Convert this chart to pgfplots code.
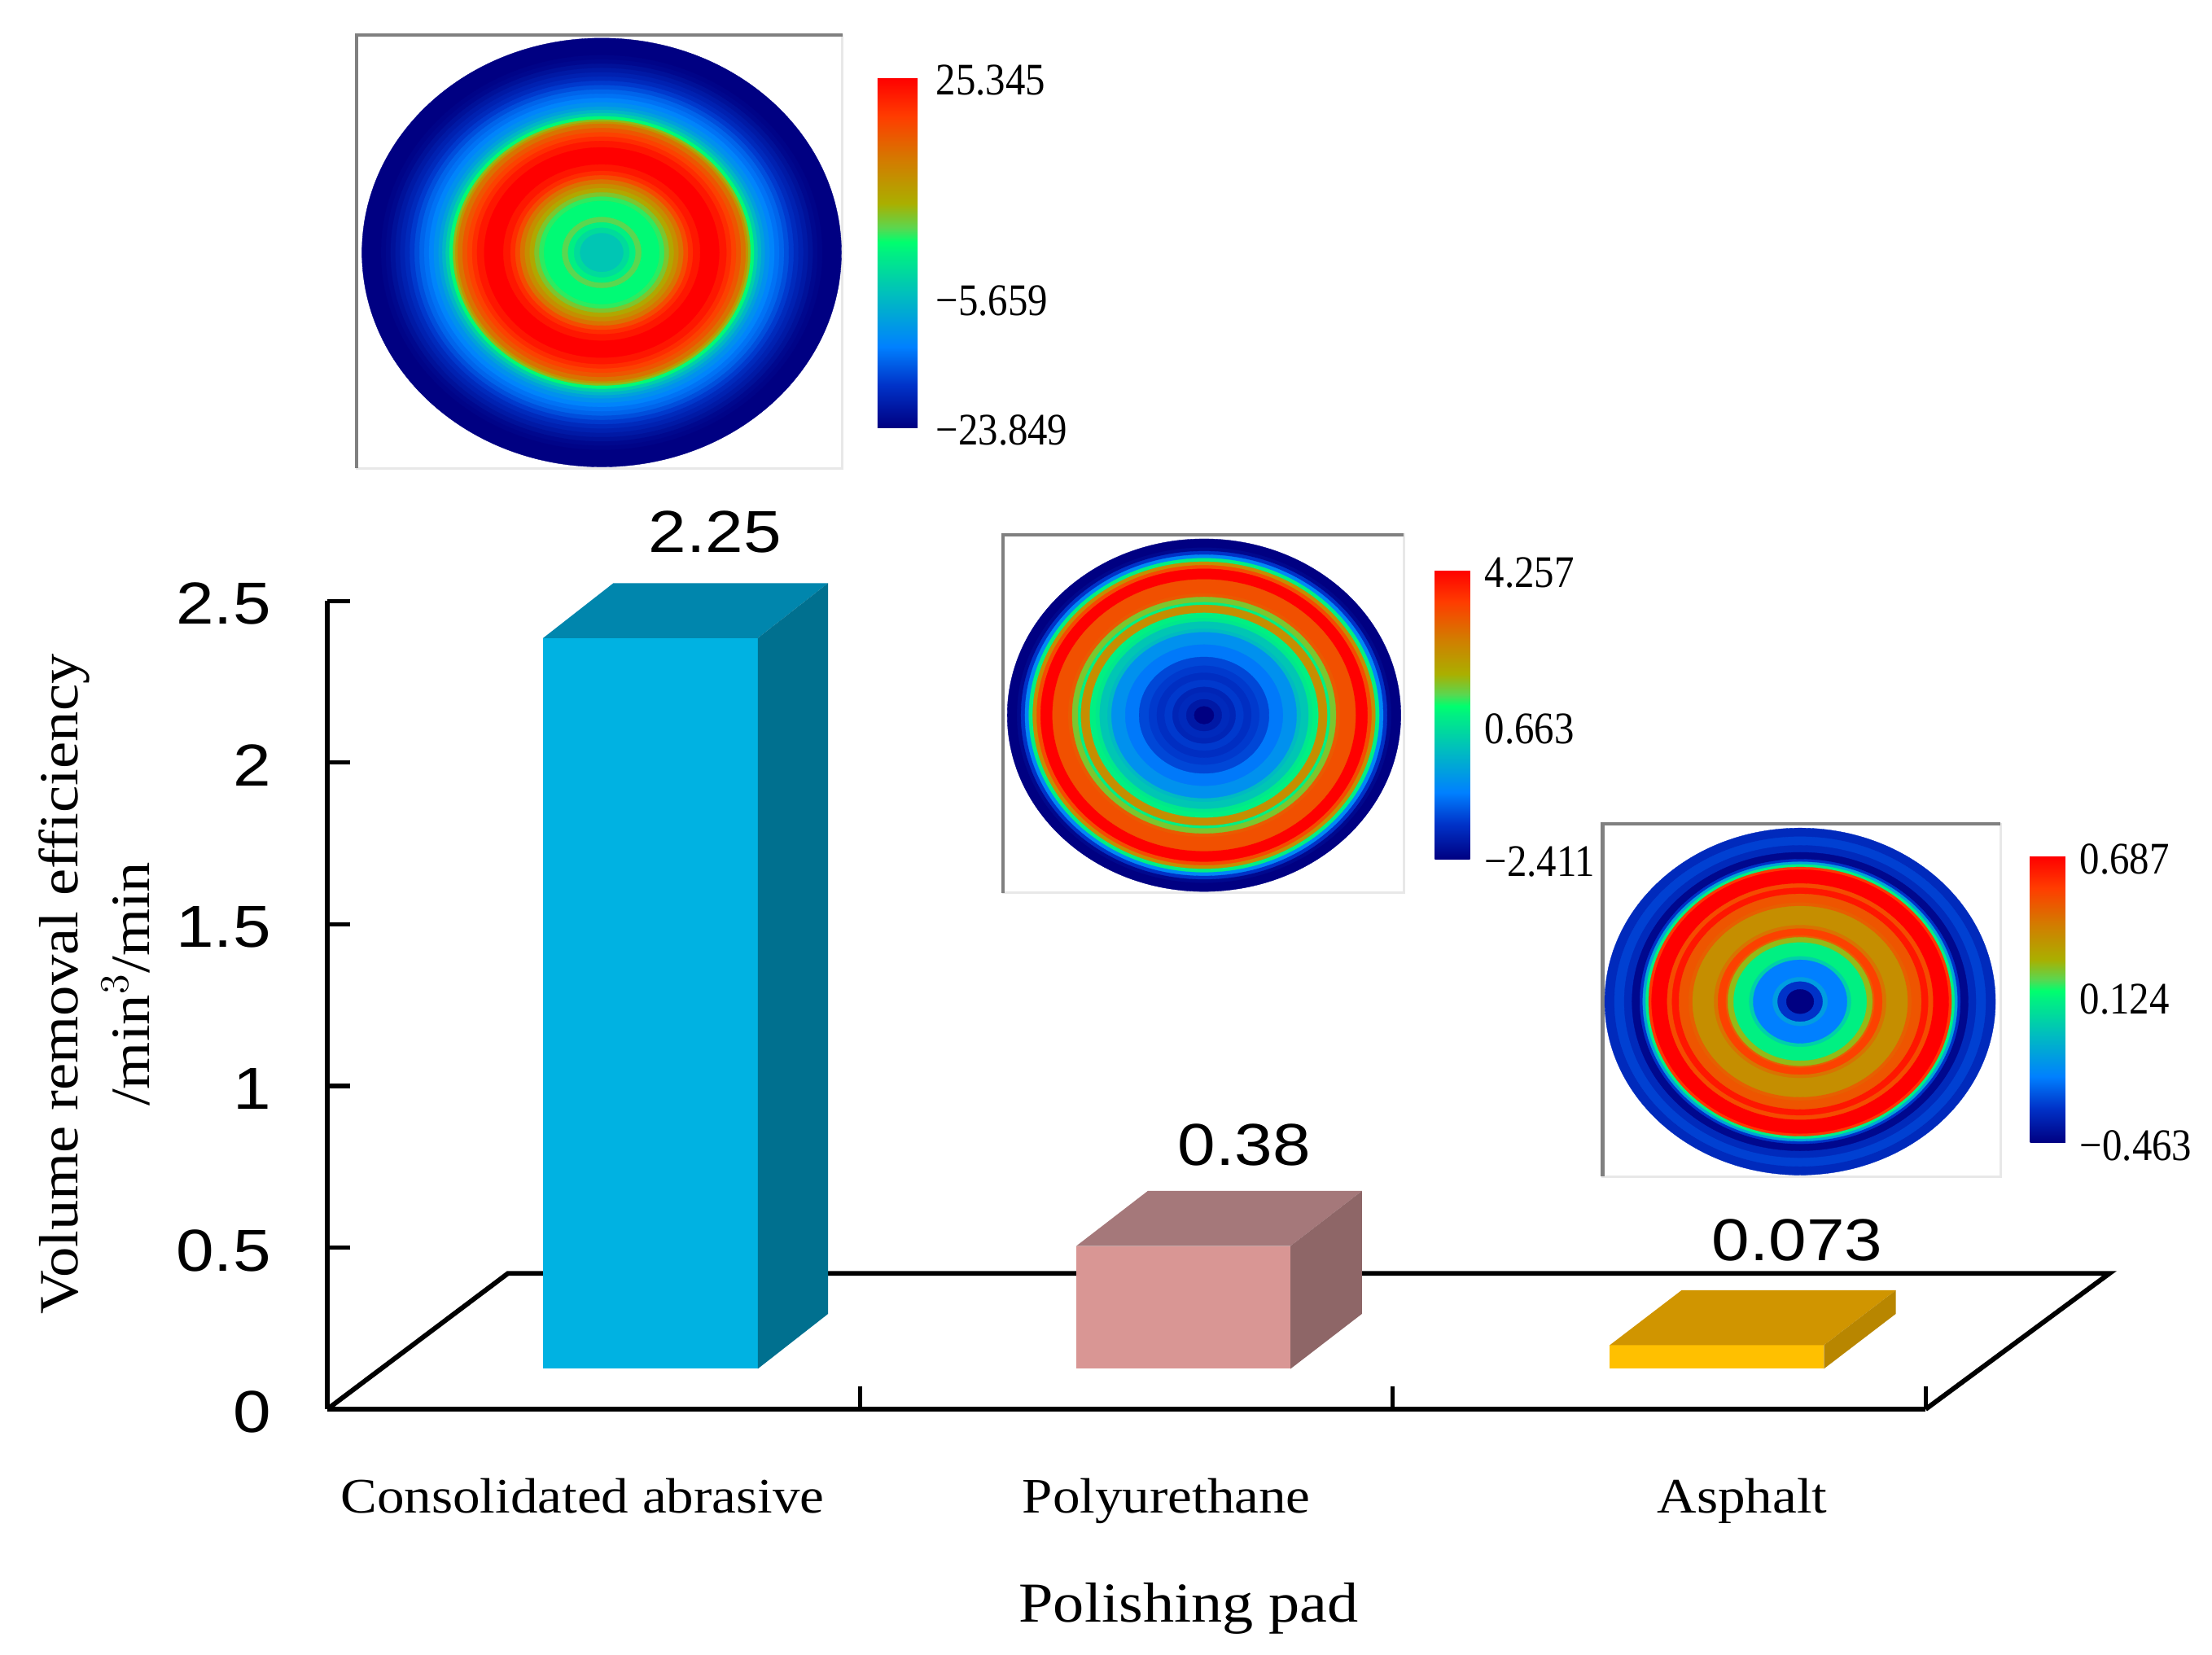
\documentclass[border=0pt]{standalone}
\usepackage{fontspec}
\usepackage{pgfplots}
\usepackage{pgfplotstable}
\pgfplotsset{compat=1.18}
\setmainfont{Liberation Serif}
\newfontfamily\numfont[FakeStretch=1.15]{Liberation Sans}
\newfontfamily\barfont[FakeStretch=0.88]{Liberation Serif}
\newfontfamily\wideserif[FakeStretch=1.1]{Liberation Serif}

\definecolor{frontA}{HTML}{00B2E2}
\definecolor{topA}{HTML}{0086AD}
\definecolor{sideA}{HTML}{00708F}
\definecolor{frontB}{HTML}{D99694}
\definecolor{topB}{HTML}{A5787A}
\definecolor{sideB}{HTML}{8E6667}
\definecolor{frontC}{HTML}{FFC000}
\definecolor{topC}{HTML}{D09500}
\definecolor{sideC}{HTML}{B88600}
\definecolor{framedark}{HTML}{808080}
\definecolor{framelight}{HTML}{E8E8E8}

% rings of each map: outer radius (fraction of the disc), level on its colour bar (0 to 1)
\pgfplotstableread{
x y r level
0 0 1.00 0.00
0 0 0.94 0.00
0 0 0.92 0.01
0 0 0.90 0.02
0 0 0.88 0.04
0 0 0.86 0.06
0 0 0.84 0.08
0 0 0.82 0.10
0 0 0.80 0.13
0 0 0.78 0.16
0 0 0.76 0.19
0 0 0.74 0.21
0 0 0.72 0.24
0 0 0.70 0.27
0 0 0.68 0.31
0 0 0.665 0.36
0 0 0.65 0.42
0 0 0.635 0.52
0 0 0.62 0.62
0 0 0.61 0.70
0 0 0.60 0.78
0 0 0.58 0.84
0 0 0.56 0.88
0 0 0.54 0.92
0 0 0.52 0.96
0 0 0.49 1.00
0 0 0.41 0.96
0 0 0.38 0.92
0 0 0.36 0.86
0 0 0.34 0.78
0 0 0.32 0.72
0 0 0.30 0.66
0 0 0.28 0.60
0 0 0.26 0.55
0 0 0.24 0.52
0 0 0.20 0.52
0 0 0.165 0.57
0 0 0.14 0.50
0 0 0.115 0.45
0 0 0.09 0.40
}\ringsA
\pgfplotstableread{
x y r level
0 0 1.00 0.00
0 0 0.95 0.02
0 0 0.93 0.12
0 0 0.91 0.25
0 0 0.89 0.50
0 0 0.87 0.72
0 0 0.85 0.86
0 0 0.83 1.00
0 0 0.79 1.00
0 0 0.77 0.85
0 0 0.69 0.83
0 0 0.67 0.60
0 0 0.64 0.50
0 0 0.625 0.72
0 0 0.595 0.72
0 0 0.58 0.50
0 0 0.55 0.48
0 0 0.53 0.40
0 0 0.49 0.37
0 0 0.47 0.27
0 0 0.40 0.22
0 0 0.33 0.15
0 0 0.28 0.13
0 0 0.24 0.11
0 0 0.20 0.13
0 0 0.16 0.09
0 0 0.13 0.10
0 0 0.09 0.06
0 0 0.05 0.00
}\ringsB
\pgfplotstableread{
x y r level
0 0 1.00 0.10
0 0 0.95 0.14
0 0 0.90 0.10
0 0 0.86 0.02
0 0 0.82 0.12
0 0 0.805 0.32
0 0 0.79 0.50
0 0 0.775 0.90
0 0 0.76 1.00
0 0 0.68 0.86
0 0 0.655 0.96
0 0 0.62 0.84
0 0 0.57 0.82
0 0 0.55 0.72
0 0 0.44 0.78
0 0 0.42 0.88
0 0 0.38 0.82
0 0 0.37 0.62
0 0 0.34 0.50
0 0 0.26 0.42
0 0 0.24 0.23
0 0 0.14 0.30
0 0 0.115 0.12
0 0 0.07 0.00
}\ringsC

\pgfplotsset{
  colormap={hm}{
    rgb255(0pt)=(0,0,130); rgb255(12pt)=(0,50,200); rgb255(23pt)=(0,128,255);
    rgb255(38pt)=(0,190,190); rgb255(50pt)=(0,240,130); rgb255(53pt)=(0,255,110);
    rgb255(57pt)=(90,215,80); rgb255(64pt)=(170,175,0); rgb255(76pt)=(210,125,0);
    rgb255(89pt)=(255,60,0); rgb255(100pt)=(255,0,0)
  },
  inset/.style={
    scale only axis, clip=false, anchor=south west,
    xtick=\empty, ytick=\empty,
    axis line style={draw=framelight, line width=0.8pt},
    colormap name=hm,
    colorbar,
  },
  mapbar/.style={
    scale only axis, at={(parent axis.north east)}, anchor=north west,
    major tick length=0pt, axis line style={draw=none},
    yticklabel style={font=\barfont\fontsize{16}{16}\selectfont, inner sep=0pt, xshift=5pt, yshift=-1pt, anchor=west},
  },
  corner/.style={framedark, line width=1.2pt},
  rings/.style={
    scatter, only marks, mark=*,
    scatter/use mapped color={draw=mapped color, fill=mapped color},
    line width=0.1pt,
    scatter/@pre marker code/.append style={/tikz/mark size=\rr},
  },
}

\begin{document}
\begin{tikzpicture}
\path[use as bounding box] (0pt,0pt) rectangle (784pt,-586.5pt);

\begin{axis}[
  scale only axis, clip=false,
  at={(116pt,-499.5pt)}, anchor=south west,
  width=566.5pt, height=286.5pt,
  xmin=0, xmax=3, ymin=0, ymax=2.5,
  axis x line*=bottom, axis y line*=left,
  axis line style={line width=1.8pt},
  tick style={black, line width=1.5pt},
  tick align=inside, major tick length=8pt,
  xtick={1,2,3}, xticklabels={,,},
  ytick={0,0.5,1,1.5,2,2.5},
  /pgf/number format/assume math mode=true,
  yticklabel style={font=\numfont\fontsize{21}{21}\selectfont, xshift=-16.5pt, yshift=-1pt},
  extra x ticks={0.479,1.575,2.656},
  extra x tick labels={Consolidated abrasive,Polyurethane,Asphalt},
  extra x tick style={major tick length=0pt,
    xticklabel style={font=\wideserif\fontsize{17.6}{18}\selectfont, yshift=-21pt}},
  xlabel={Polishing pad},
  ylabel={Volume removal efficiency\\/min$^{3}$/min},
  xlabel style={font=\wideserif\fontsize{20}{20}\selectfont,
    at={(axis description cs:0.539,-0.2465)}, anchor=center},
  ylabel style={font=\wideserif\fontsize{19.6}{25.5}\selectfont, align=center,
    at={(axis description cs:-0.1456,0.526)}, anchor=center},
]
% floor
\addplot[black, line width=1.7pt] coordinates {(0,0) (0.339,0.42) (3.345,0.42) (3,0)};
% consolidated abrasive, 2.25
\addplot[fill=frontA, draw=none] coordinates {(0.405,0.125) (0.808,0.125) (0.808,2.385) (0.405,2.385)};
\addplot[fill=topA, draw=none] coordinates {(0.405,2.385) (0.808,2.385) (0.940,2.555) (0.537,2.555)};
\addplot[fill=sideA, draw=none] coordinates {(0.808,0.125) (0.940,0.295) (0.940,2.555) (0.808,2.385)};
% polyurethane, 0.38
\addplot[fill=frontB, draw=none] coordinates {(1.406,0.125) (1.808,0.125) (1.808,0.505) (1.406,0.505)};
\addplot[fill=topB, draw=none] coordinates {(1.406,0.505) (1.808,0.505) (1.942,0.675) (1.540,0.675)};
\addplot[fill=sideB, draw=none] coordinates {(1.808,0.125) (1.942,0.295) (1.942,0.675) (1.808,0.505)};
% asphalt, 0.073
\addplot[fill=frontC, draw=none] coordinates {(2.407,0.125) (2.809,0.125) (2.809,0.198) (2.407,0.198)};
\addplot[fill=topC, draw=none] coordinates {(2.407,0.198) (2.809,0.198) (2.944,0.368) (2.542,0.368)};
\addplot[fill=sideC, draw=none] coordinates {(2.809,0.125) (2.944,0.295) (2.944,0.368) (2.809,0.198)};
% value labels
\addplot[draw=none, nodes near coords, point meta=explicit symbolic,
  every node near coord/.append style={font=\numfont\fontsize{21}{21}\selectfont, anchor=center, inner sep=0pt}]
  table[meta=lab] {
x y lab
0.728 2.714 2.25
1.721 0.817 0.38
2.759 0.524 0.073
};
\end{axis}

\begin{axis}[inset,
  at={(126.5pt,-166pt)}, width=172pt, height=153.5pt,
  xmin=-173.5, xmax=170.5, ymin=-153, ymax=154,
  point meta min=-23.849, point meta max=25.345,
  colorbar style={mapbar, width=15.5pt, height=124pt, xshift=4pt, yshift=-15pt,
    ytick={-23.849,-5.659,25.345}, yticklabels={−23.849,−5.659,\raisebox{-1.5pt}{25.345}}},
]
\addplot[corner] coordinates {(-173.5,-153) (-173.5,154) (170.5,154)};
\addplot[rings, mark options={xscale=1.118},
  visualization depends on={\thisrow{r}*76 \as \rr},
  point meta={\thisrow{level}*49.194-23.849}] table {\ringsA};
\end{axis}

\begin{axis}[inset,
  at={(355.5pt,-316.5pt)}, width=142pt, height=127pt,
  xmin=-142.5, xmax=141.5, ymin=-126, ymax=128,
  point meta min=-2.411, point meta max=4.257,
  colorbar style={mapbar, width=12.5pt, height=102.5pt, xshift=2.5pt, yshift=-12.5pt,
    ytick={-2.411,0.663,4.257}, yticklabels={−2.411,0.663,\raisebox{-1.5pt}{4.257}}},
]
\addplot[corner] coordinates {(-142.5,-126) (-142.5,128) (141.5,128)};
\addplot[rings, mark options={xscale=1.116},
  visualization depends on={\thisrow{r}*62.5 \as \rr},
  point meta={\thisrow{level}*6.668-2.411}] table {\ringsB};
\end{axis}

\begin{axis}[inset,
  at={(568pt,-417pt)}, width=141pt, height=125pt,
  xmin=-140, xmax=142, ymin=-124, ymax=126,
  point meta min=-0.463, point meta max=0.687,
  colorbar style={mapbar, width=12.5pt, height=101.5pt, xshift=2pt, yshift=-11.5pt,
    ytick={-0.463,0.124,0.687}, yticklabels={−0.463,0.124,\raisebox{-1.5pt}{0.687}}},
]
\addplot[corner] coordinates {(-140,-124) (-140,126) (142,126)};
\addplot[rings, mark options={xscale=1.126},
  visualization depends on={\thisrow{r}*61.5 \as \rr},
  point meta={\thisrow{level}*1.15-0.463}] table {\ringsC};
\end{axis}
\end{tikzpicture}
\end{document}
